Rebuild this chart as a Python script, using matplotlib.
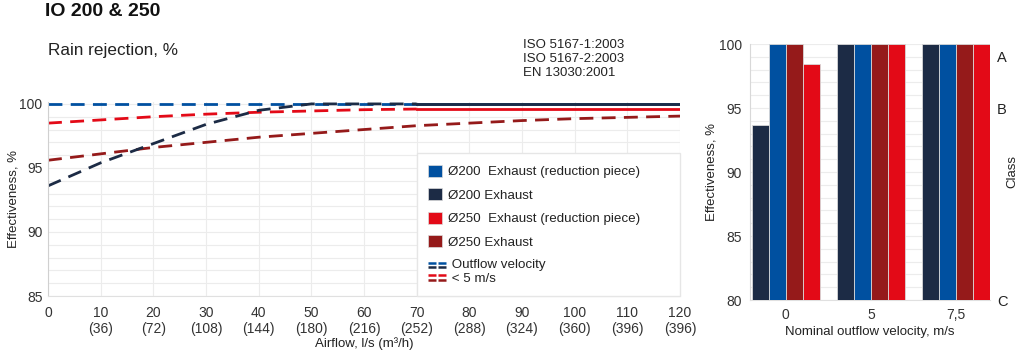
import matplotlib.pyplot as plt
from matplotlib.patches import Patch
from matplotlib.lines import Line2D
from matplotlib.legend_handler import HandlerBase
from matplotlib.ticker import MultipleLocator

plt.rcParams['font.family'] = ['Liberation Sans', 'DejaVu Sans']

NAVY = '#1c2b45'
BLUE = '#0050a0'
RED = '#e30a17'
DARK = '#951a1a'
GRID = '#ececec'
TXT = '#222222'

# line chart data
airflow = [0, 10, 20, 30, 40, 50, 60, 70, 80, 90, 100, 110, 120]
x_labels = ['0', '10\n(36)', '20\n(72)', '30\n(108)', '40\n(144)', '50\n(180)', '60\n(216)',
            '70\n(252)', '80\n(288)', '90\n(324)', '100\n(360)', '110\n(396)', '120\n(396)']
eff_200_red = [100, 100, 100, 100, 100, 100, 100, 100, 100, 100, 100, 100, 100]
eff_200 = [93.6, 95.4, 96.9, 98.4, 99.5, 100, 100, 100, 100, 100, 100, 100, 100]
eff_250_red = [98.5, 98.75, 99.0, 99.2, 99.35, 99.45, 99.55, 99.6, 99.6, 99.6, 99.6, 99.6, 99.6]
eff_250 = [95.6, 96.1, 96.6, 97.0, 97.4, 97.7, 98.0, 98.3, 98.5, 98.7, 98.85, 98.95, 99.05]
dash_end = 7  # index where the dashed (< 5 m/s) part ends

# bar chart data
velocity = ['0', '5', '7,5']
bar_200 = [93.7, 100, 100]
bar_200_red = [100, 100, 100]
bar_250 = [100, 100, 100]
bar_250_red = [98.4, 100, 100]
class_pos = [99, 95, 80]
class_lab = ['A', 'B', 'C']

DASH = (0, (5, 3))


class PairHandler(HandlerBase):
    def create_artists(self, legend, orig_handle, xdescent, ydescent,
                       width, height, fontsize, trans):
        arts = []
        rows = [(BLUE, 0.62), (NAVY, 0.32), (RED, -0.28), (DARK, -0.6)]
        w = width * 1.3
        for c, k in rows:
            y = height / 2 + k * fontsize - ydescent
            for a, b in [(0, 0.42), (0.58, 1.0)]:
                ln = Line2D([a * w - xdescent, b * w - xdescent], [y, y], color=c,
                            lw=1.8, solid_capstyle='butt', transform=trans)
                arts.append(ln)
        return arts


fig = plt.figure(figsize=(10.24, 3.56), dpi=100)

fig.text(45 / 1024, 1 - 12 / 356, 'IO 200 & 250', fontsize=14, weight='bold',
         va='center', color='#111111')
fig.text(48 / 1024, 1 - 50 / 356, 'Rain rejection, %', fontsize=12.3, va='center', color=TXT)
fig.text(523 / 1024, 1 - 39 / 356, 'ISO 5167-1:2003\nISO 5167-2:2003\nEN 13030:2001',
         fontsize=9.5, va='top', color=TXT)

# ---- line chart
ax = fig.add_axes([48 / 1024, 60 / 356, 632 / 1024, 194 / 356])
ax.set_xlim(0, 120)
ax.set_ylim(85, 100.15)
ax.set_xticks(airflow)
ax.set_xticklabels(x_labels)
ax.set_yticks([85, 90, 95, 100])
ax.yaxis.set_minor_locator(MultipleLocator(1))
ax.grid(axis='y', which='both', color=GRID, lw=0.8)
ax.grid(axis='x', which='major', color=GRID, lw=0.8)
ax.set_axisbelow(True)
ax.tick_params(which='both', length=0, labelsize=10, colors='#333333')
ax.tick_params(axis='x', pad=7)
ax.tick_params(axis='y', pad=4)
for s in ['top', 'right']:
    ax.spines[s].set_visible(False)
ax.spines['left'].set_color('#d0d0d0')
ax.spines['bottom'].set_color('#e0e0e0')

for vals, col in [(eff_200_red, BLUE), (eff_250, DARK), (eff_250_red, RED), (eff_200, NAVY)]:
    if vals is eff_250:
        ax.plot(airflow, vals, color=col, lw=2.0, ls=DASH)
    else:
        ax.plot(airflow[:dash_end + 1], vals[:dash_end + 1], color=col, lw=2.0, ls=DASH)
        ax.plot(airflow[dash_end:], vals[dash_end:], color=col, lw=2.0, ls='-')

ax.set_xlabel('Airflow, l/s (m³/h)', fontsize=9.5, color=TXT, labelpad=1)
ax.set_ylabel('Effectiveness, %', fontsize=9.5, color=TXT, labelpad=0)

handles = [Patch(facecolor=BLUE, edgecolor='#dddddd', lw=0.5),
           Patch(facecolor=NAVY, edgecolor='#dddddd', lw=0.5),
           Patch(facecolor=RED, edgecolor='#dddddd', lw=0.5),
           Patch(facecolor=DARK, edgecolor='#dddddd', lw=0.5),
           Line2D([], [])]
labels = ['Ø200  Exhaust (reduction piece)', 'Ø200 Exhaust',
          'Ø250  Exhaust (reduction piece)', 'Ø250 Exhaust',
          ' Outflow velocity\n < 5 m/s']
leg = ax.legend(handles, labels, loc='lower left',
                bbox_to_anchor=((417 - 48) / 632, 0, (680 - 417) / 632, 0.5),
                mode='expand', borderaxespad=0, fontsize=9.6,
                handlelength=1.0, handleheight=1.0, handletextpad=0.5,
                labelspacing=0.75, borderpad=0.85, fancybox=False,
                framealpha=1, edgecolor='#e6e6e6',
                handler_map={Line2D: PairHandler()})
leg.get_frame().set_linewidth(1.0)
for t in leg.get_texts():
    t.set_color(TXT)

# ---- bar chart
ax2 = fig.add_axes([750 / 1024, 56 / 356, 240 / 1024, 256 / 356])
ax2.set_ylim(80, 100)
ax2.set_xlim(-0.42, 2.4)
pos = list(range(len(velocity)))
w = 0.2
for j, (vals, col) in enumerate([(bar_200, NAVY), (bar_200_red, BLUE),
                                 (bar_250, DARK), (bar_250_red, RED)]):
    ax2.bar([p + (j - 1.5) * w for p in pos], vals, width=w, color=col,
            edgecolor='#d8d8d8', lw=0.6, zorder=3)
ax2.set_xticks(pos)
ax2.set_xticklabels(velocity)
ax2.set_yticks([80, 85, 90, 95, 100])
ax2.yaxis.set_minor_locator(MultipleLocator(1))
ax2.grid(axis='y', which='both', color=GRID, lw=0.8)
ax2.set_axisbelow(True)
ax2.tick_params(which='both', length=0, labelsize=10, colors='#333333')
ax2.tick_params(axis='x', pad=6)
ax2.tick_params(axis='y', pad=6)
for s in ['top', 'right']:
    ax2.spines[s].set_visible(False)
ax2.spines['left'].set_color('#d8d8d8')
ax2.spines['bottom'].set_color('#e0e0e0')
ax2.set_xlabel('Nominal outflow velocity, m/s', fontsize=9.5, color=TXT, labelpad=3)
ax2.set_ylabel('Effectiveness, %', fontsize=9.5, color=TXT, labelpad=1)

ax3 = ax2.twinx()
ax3.set_ylim(80, 100)
ax3.set_yticks(class_pos)
ax3.set_yticklabels(class_lab)
ax3.tick_params(length=0, labelsize=10.5, colors='#222222', pad=5)
for s in ax3.spines.values():
    s.set_visible(False)
ax3.set_ylabel('Class', fontsize=9.5, color=TXT)
ax3.yaxis.set_label_coords((1006 - 750) / 240, 0.5)

fig.savefig('out.png', dpi=100)
